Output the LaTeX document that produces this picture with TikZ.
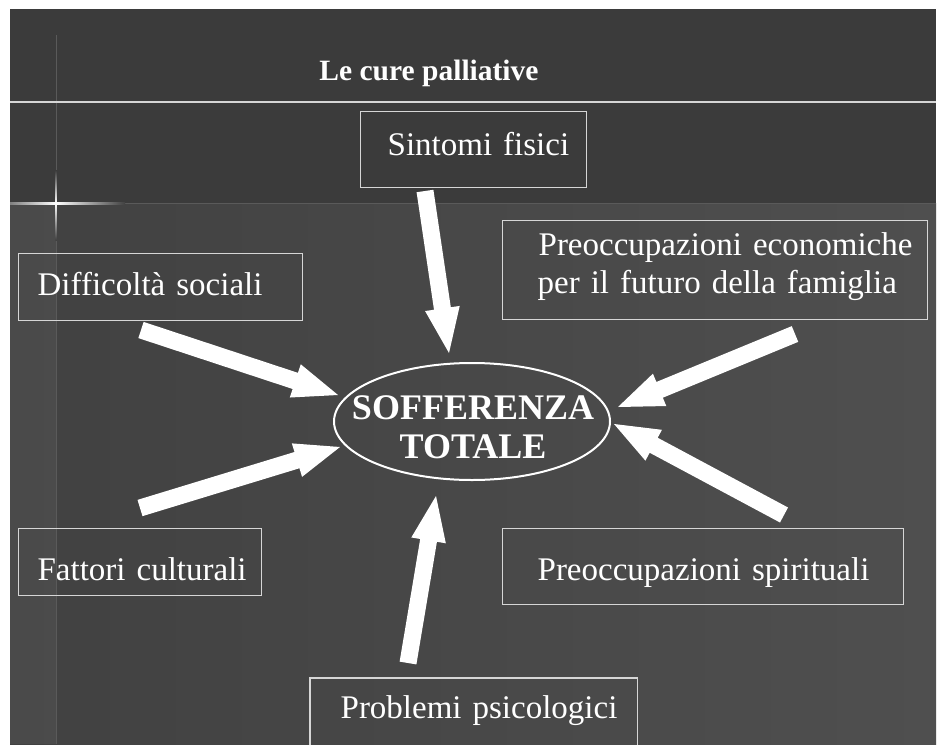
\documentclass[tikz,border=0pt]{standalone}
\usepackage{fontspec}
\setmainfont{Liberation Serif}
\usetikzlibrary{calc}
\definecolor{bgtop}{HTML}{3B3B3B}
\definecolor{bglowA}{HTML}{414141}
\definecolor{bglowB}{HTML}{4F4F4F}
\definecolor{boxline}{HTML}{D6D6D6}
\definecolor{sparkdim}{HTML}{5A5A5A}
\newcommand{\blockarrow}[2]{%
  \coordinate (hb) at ($(#2)!45pt!(#1)$);
  \fill[white] ($(#1)!8.5pt!90:(#2)$) -- ($(hb)!8.5pt!-90:(#1)$) -- ($(hb)!17.5pt!-90:(#1)$) -- (#2)
     -- ($(hb)!17.5pt!90:(#1)$) -- ($(hb)!8.5pt!90:(#1)$) -- ($(#1)!8.5pt!-90:(#2)$) -- cycle;
}
\tikzset{
  boxnode/.style={draw=boxline, line width=1.3pt, text=white,
    font=\fontsize{33}{38}\selectfont, align=left, inner xsep=0pt, inner ysep=0pt,
    anchor=north west},
}
\begin{document}
\begin{tikzpicture}[x=1pt,y=-1pt]
\useasboundingbox (0,0) rectangle (939,744);
% background
\fill[white] (0,0) rectangle (939,744);
\fill[bgtop] (10,9) rectangle (936,203);
\shade[left color=bglowA, right color=bglowB] (10,203) rectangle (936,744);
\fill[white, opacity=0.05] (10,203) rectangle (56,744);
\draw[sparkdim, line width=1pt] (10,203) -- (936,203);
% sparkle
\draw[sparkdim, line width=0.8pt] (56,35) -- (56,744);
\shade[left color=gray, right color=white] (10,202) rectangle (56,204.5);
\shade[left color=white, right color=bglowA] (56,202) rectangle (125,204.5);
\shade[top color=bgtop, bottom color=white] (55.3,170) rectangle (56.8,203);
\shade[top color=white, bottom color=bglowA] (55.3,203) rectangle (56.8,240);
% title
\node[text=white, font=\fontsize{29.5}{34}\selectfont\bfseries, anchor=base] (title) at (429,80) {Le cure palliative};
\draw[boxline, line width=1.3pt] (10,102) -- (936,102);
% boxes
\node[boxnode, text width=226pt, text height=44pt, text depth=32pt] (sint) at (360,111) {\hspace*{27pt}Sintomi fisici};
\node[boxnode, text width=284pt, text height=42pt, text depth=25pt] (diff) at (18,253) {\hspace*{19pt}Difficoltà sociali};
\node[boxnode, text width=425pt, text height=35pt, text depth=64pt] (econ) at (502,220) {\hspace*{36pt}Preoccupazioni economiche\\\hspace*{35pt}per il futuro della famiglia};
\node[boxnode, text width=243pt, text height=52pt, text depth=15pt] (fatt) at (18,528) {\hspace*{19pt}Fattori culturali};
\node[boxnode, text width=401pt, text height=52pt, text depth=24pt] (spir) at (502,528) {\hspace*{35pt}Preoccupazioni spirituali};
\node[boxnode, draw=none, text width=326pt, text height=40pt, text depth=26pt] (psic) at (310,678) {\hspace*{30pt}Problemi psicologici};
\draw[boxline, line width=1.3pt] (psic.south west) -- (psic.north west) -- (psic.north east) -- (psic.south east);
% centre
\node[text=white, font=\fontsize{36}{39}\selectfont\bfseries, align=center, inner sep=0pt] (tot) at (473,427.5) {SOFFERENZA\\TOTALE};
\coordinate (ec) at (472,421.5);
\draw[white, line width=2pt] (ec) ellipse [x radius=138pt, y radius=58.5pt];
% arrows
\coordinate (t1) at (425,191);  \coordinate (p1) at (449,353);
\coordinate (t2) at (141,330);  \coordinate (p2) at (338,395);
\coordinate (t3) at (140,508);  \coordinate (p3) at (340,447);
\coordinate (t4) at (795,334);  \coordinate (p4) at (618,407);
\coordinate (t5) at (784,515);  \coordinate (p5) at (614,424);
\coordinate (t6) at (408,663);  \coordinate (p6) at (436,496);
\blockarrow{t1}{p1}
\blockarrow{t2}{p2}
\blockarrow{t3}{p3}
\blockarrow{t4}{p4}
\blockarrow{t5}{p5}
\blockarrow{t6}{p6}
\end{tikzpicture}
\end{document}
